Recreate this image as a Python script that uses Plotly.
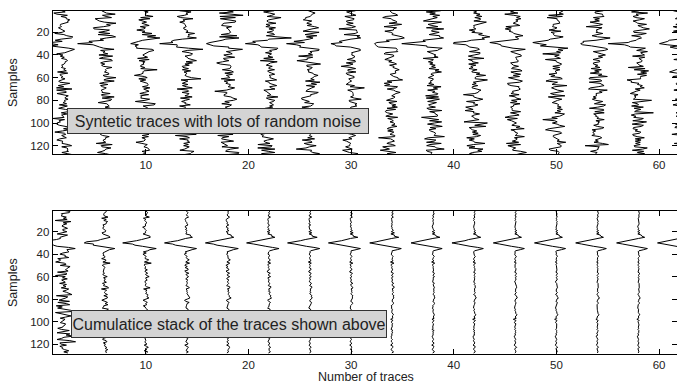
import numpy as np
import plotly.graph_objects as go

# ---- data -----------------------------------------------------------------
n_samples = 128
n_traces = 64
samples = np.arange(1, n_samples + 1)

# trace positions drawn in each panel (every fourth trace)
shown_traces = [2, 6, 10, 14, 18, 22, 26, 30, 34, 38, 42, 46, 50, 54, 58, 62]
# number of traces summed into the stack drawn at each position
stack_counts = [1, 5, 9, 13, 17, 21, 25, 29, 33, 37, 41, 45, 49, 53, 57, 61]

# source wavelet (sample index -> amplitude, in trace-spacing units)
wavelet_samples = [22, 23, 24, 25, 26, 27, 28, 29, 30, 31, 32, 33, 34, 35, 36, 37, 38]
wavelet_amplitude = [0.05, 0.2, 0.4, 0.5, 0.05, -0.5, -1.05, -1.6, -2.1,
                     -1.5, -0.9, -0.3, 0.3, 0.8, 0.45, 0.15, 0.03]

noise_level = 0.45
noise_seed = 11

x_tick_values = [10, 20, 30, 40, 50, 60]
y_tick_values = [20, 40, 60, 80, 100, 120]

panel_labels = ["Syntetic traces with lots of random noise",
                "Cumulatice stack of the traces shown above"]
x_title = "Number of traces"
y_title = "Samples"

# ---- synthetic gather and its cumulative stack ------------------------------
signal = np.zeros(n_samples)
signal[np.array(wavelet_samples) - 1] = wavelet_amplitude

rng = np.random.default_rng(noise_seed)
raw = signal[None, :] + rng.normal(0.0, noise_level, (n_traces, n_samples))
stack = np.cumsum(raw, axis=0) / np.arange(1, n_traces + 1)[:, None]

# ---- figure ---------------------------------------------------------------
W, H = 677, 385
fig = go.Figure()

for t in shown_traces:
    fig.add_trace(go.Scatter(
        x=t + raw[t - 1], y=samples, xaxis="x", yaxis="y",
        mode="lines", line=dict(color="black", width=1),
        hoverinfo="skip", showlegend=False))

for t, k in zip(shown_traces, stack_counts):
    fig.add_trace(go.Scatter(
        x=t + stack[k - 1], y=samples, xaxis="x2", yaxis="y2",
        mode="lines", line=dict(color="black", width=1),
        hoverinfo="skip", showlegend=False))

# helpers carrying the right-hand tick marks
fig.add_trace(go.Scatter(x=[None], y=[None], xaxis="x", yaxis="y3", showlegend=False))
fig.add_trace(go.Scatter(x=[None], y=[None], xaxis="x2", yaxis="y4", showlegend=False))

left = 52.7 / W
x_range = [0.93, 61.75]
top_dom = [1 - 154.3 / H, 1 - 11 / H]
bot_dom = [1 - 354.0 / H, 1 - 210.7 / H]
y_range_top = [127.6, 1.2]
y_range_bot = [128.9, 1.3]

tick_font = dict(family="Liberation Sans, Arial, sans-serif", size=11.5, color="#222")

def x_axis(anchor):
    return dict(domain=[left, 1], range=x_range, anchor=anchor,
                tickvals=x_tick_values, ticks="inside", ticklen=5,
                tickcolor="black", showline=True, linecolor="black",
                linewidth=1, mirror="ticks", showgrid=False, zeroline=False,
                tickfont=tick_font)

def y_axis(dom, rng_, anchor):
    return dict(domain=dom, range=rng_, anchor=anchor, autorange=False,
                tickvals=y_tick_values, ticks="inside", ticklen=5,
                tickcolor="black", showline=True, linecolor="black",
                linewidth=1, showgrid=False, zeroline=False,
                tickfont=tick_font)

def y_right(over, rng_, anchor):
    return dict(overlaying=over, side="right", anchor=anchor, range=rng_,
                autorange=False, tickvals=y_tick_values, ticks="inside",
                ticklen=5, tickcolor="black", showticklabels=False,
                showline=False, showgrid=False, zeroline=False)

fig.update_layout(
    width=W, height=H,
    margin=dict(l=0, r=0, t=0, b=0),
    paper_bgcolor="white", plot_bgcolor="white",
    xaxis=x_axis("y"),
    yaxis=y_axis(top_dom, y_range_top, "x"),
    xaxis2=x_axis("y2"),
    yaxis2=y_axis(bot_dom, y_range_bot, "x2"),
    yaxis3=y_right("y", y_range_top, "x"),
    yaxis4=y_right("y2", y_range_bot, "x2"),
    font=dict(family="Liberation Sans, Arial, sans-serif", color="#222"),
)

box = dict(xref="paper", yref="paper", xanchor="center", yanchor="middle",
           showarrow=False, bgcolor="#d4d4d4", bordercolor="#333",
           borderwidth=1, borderpad=0,
           font=dict(family="Liberation Sans, Arial, sans-serif", size=16, color="#222"))
fig.add_annotation(text=panel_labels[0], x=218 / W, y=1 - 121 / H,
                   width=300, height=24, **box)
fig.add_annotation(text=panel_labels[1], x=229.2 / W, y=1 - 324.2 / H,
                   width=314, height=26, **box)

title_font = dict(family="Liberation Sans, Arial, sans-serif", size=12.5, color="#222")
fig.add_annotation(text=y_title, textangle=-90, x=13 / W, y=1 - 83 / H,
                   xref="paper", yref="paper", showarrow=False,
                   xanchor="center", yanchor="middle", font=title_font)
fig.add_annotation(text=y_title, textangle=-90, x=13 / W, y=1 - 283 / H,
                   xref="paper", yref="paper", showarrow=False,
                   xanchor="center", yanchor="middle", font=title_font)
fig.add_annotation(text=x_title, x=366 / W, y=1 - 377 / H,
                   xref="paper", yref="paper", showarrow=False,
                   xanchor="center", yanchor="middle", font=title_font)

fig.write_html("out.html")
